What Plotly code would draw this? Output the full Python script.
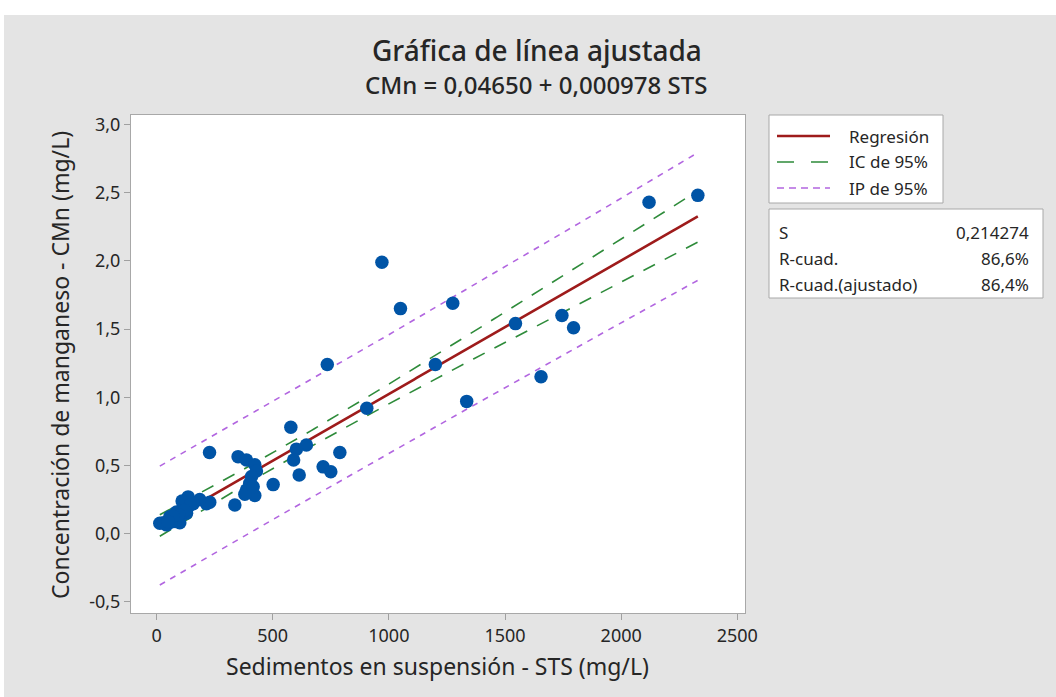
import numpy as np
import plotly.graph_objects as go

# ---- data ----
sts = [2330, 2120, 970, 1050, 1275, 1545, 1745, 1795, 1655, 1200, 735, 1335, 905,
       578, 645, 602, 590, 789, 717, 750, 614, 502, 337, 228,
       351, 387, 423, 430, 409, 401, 387, 423, 380, 416,
       229, 215, 186, 158, 136, 115, 129, 100, 86, 71, 57, 43, 14, 100, 80, 30,
       60, 110, 145, 120, 95, 70, 50]
cmn = [2.48, 2.43, 1.99, 1.65, 1.69, 1.54, 1.60, 1.51, 1.15, 1.24, 1.24, 0.97, 0.92,
       0.78, 0.65, 0.62, 0.54, 0.595, 0.49, 0.455, 0.43, 0.36, 0.21, 0.595,
       0.565, 0.54, 0.505, 0.46, 0.42, 0.37, 0.32, 0.28, 0.29, 0.345,
       0.23, 0.22, 0.25, 0.22, 0.27, 0.20, 0.15, 0.125, 0.16, 0.10, 0.125, 0.065, 0.077, 0.08, 0.09, 0.08,
       0.085, 0.24, 0.21, 0.17, 0.14, 0.13, 0.09]

b0, b1 = 0.04650, 0.000978
s_val = 0.214274
t_crit = 2.0

x_ticks = [0, 500, 1000, 1500, 2000, 2500]
x_ticktext = ["0", "500", "1000", "1500", "2000", "2500"]
y_ticks = [-0.5, 0.0, 0.5, 1.0, 1.5, 2.0, 2.5, 3.0]
y_ticktext = ["-0,5", "0,0", "0,5", "1,0", "1,5", "2,0", "2,5", "3,0"]

legend_labels = ["Regresión", "IC de 95%", "IP de 95%"]
stats_labels = ["S", "R-cuad.", "R-cuad.(ajustado)"]
stats_values = ["0,214274", "86,6%", "86,4%"]

# ---- derived fit lines ----
xa = np.array(sts, dtype=float)
n = len(xa)
xbar = xa.mean()
sxx = ((xa - xbar) ** 2).sum()
xg = np.linspace(xa.min(), xa.max(), 200)
yhat = b0 + b1 * xg
se_m = s_val * np.sqrt(1 / n + (xg - xbar) ** 2 / sxx)
se_p = s_val * np.sqrt(1 + 1 / n + (xg - xbar) ** 2 / sxx)

RED = "#9e1b1b"
GREEN = "#2e8b3a"
PURPLE = "#b266e0"
BLUE = "#0054a6"
FONT = "Noto Sans"
TXT = "#262626"

fig = go.Figure()
fig.add_trace(go.Scatter(x=xg, y=yhat + t_crit * se_p, mode="lines",
                         line=dict(color=PURPLE, width=1.6, dash="6px,6px"), showlegend=False))
fig.add_trace(go.Scatter(x=xg, y=yhat - t_crit * se_p, mode="lines",
                         line=dict(color=PURPLE, width=1.6, dash="6px,6px"), showlegend=False))
fig.add_trace(go.Scatter(x=xg, y=yhat + t_crit * se_m, mode="lines",
                         line=dict(color=GREEN, width=1.6, dash="13px,11px"), showlegend=False))
fig.add_trace(go.Scatter(x=xg, y=yhat - t_crit * se_m, mode="lines",
                         line=dict(color=GREEN, width=1.6, dash="13px,11px"), showlegend=False))
fig.add_trace(go.Scatter(x=xg, y=yhat, mode="lines",
                         line=dict(color=RED, width=2.6), showlegend=False))
fig.add_trace(go.Scatter(x=sts, y=cmn, mode="markers",
                         marker=dict(color=BLUE, size=13.5, line=dict(width=0)), showlegend=False))

W, H = 1056, 697
L, R, T, B = 131, 311, 115, 84
PW, PH = W - L - R, H - T - B


def px(xp):
    return (xp - L) / PW


def py(yp):
    return 1 - (yp - T) / PH


shapes = [
    # white strips at top / left of the page
    dict(type="rect", xref="paper", yref="paper", x0=px(-5), x1=px(W + 5), y0=py(15), y1=py(-5),
         fillcolor="white", line=dict(width=0), layer="below"),
    dict(type="rect", xref="paper", yref="paper", x0=px(-5), x1=px(4), y0=py(H + 5), y1=py(15),
         fillcolor="white", line=dict(width=0), layer="below"),
    # legend box
    dict(type="rect", xref="paper", yref="paper", x0=px(769), x1=px(943), y0=py(203), y1=py(115),
         fillcolor="white", line=dict(color="#a8a8a8", width=1)),
    # stats box
    dict(type="rect", xref="paper", yref="paper", x0=px(769), x1=px(1043), y0=py(298), y1=py(209),
         fillcolor="white", line=dict(color="#a8a8a8", width=1)),
]
legend_styles = [dict(color=RED, width=2.6), dict(color=GREEN, width=1.6, dash="17px,17px"),
                 dict(color=PURPLE, width=1.6, dash="7px,5px")]
legend_rows = [136, 162, 188]
for lab, st, ry in zip(legend_labels, legend_styles, legend_rows):
    shapes.append(dict(type="line", xref="paper", yref="paper", x0=px(777), x1=px(830),
                       y0=py(ry), y1=py(ry), line=st))

annotations = [
    dict(text="Gráfica de línea ajustada", x=px(537), y=py(50), xref="paper", yref="paper",
         showarrow=False, font=dict(family=FONT, size=28, color=TXT, weight=500),
         xanchor="center", yanchor="middle"),
    dict(text="CMn = 0,04650 + 0,000978 STS", x=px(536), y=py(85), xref="paper", yref="paper",
         showarrow=False, font=dict(family=FONT, size=24, color=TXT, weight=500),
         xanchor="center", yanchor="middle"),
    dict(text="Concentración de manganeso - CMn (mg/L)", x=px(60), y=py(365), xref="paper", yref="paper",
         showarrow=False, textangle=-90, font=dict(family=FONT, size=23, color=TXT),
         xanchor="center", yanchor="middle"),
    dict(text="Sedimentos en suspensión - STS (mg/L)", x=px(437), y=py(666), xref="paper", yref="paper",
         showarrow=False, font=dict(family=FONT, size=23, color=TXT), xanchor="center", yanchor="middle"),
]
for lab, ry in zip(legend_labels, legend_rows):
    annotations.append(dict(text=lab, x=px(847), y=py(ry), xref="paper", yref="paper", showarrow=False,
                            font=dict(family=FONT, size=17, color=TXT), xanchor="left", yanchor="middle"))
for lab, val, ry in zip(stats_labels, stats_values, [232, 258, 284]):
    annotations.append(dict(text=lab, x=px(777), y=py(ry), xref="paper", yref="paper", showarrow=False,
                            font=dict(family=FONT, size=17, color=TXT), xanchor="left", yanchor="middle"))
    annotations.append(dict(text=val, x=px(1031), y=py(ry), xref="paper", yref="paper", showarrow=False,
                            font=dict(family=FONT, size=17, color=TXT), xanchor="right", yanchor="middle"))

axis_common = dict(showgrid=False, zeroline=False, showline=True, mirror=True, linecolor="#a8a8a8",
                   linewidth=1, ticks="outside", ticklen=6, tickcolor="#a0a0a0",
                   tickfont=dict(family=FONT, size=18, color=TXT))
fig.update_layout(
    width=W, height=H,
    margin=dict(l=L, r=R, t=T, b=B),
    paper_bgcolor="#e4e4e4", plot_bgcolor="white",
    showlegend=False,
    xaxis=dict(range=[-110, 2533], tickvals=x_ticks, ticktext=x_ticktext, **axis_common),
    yaxis=dict(range=[-0.581, 3.069], tickvals=y_ticks, ticktext=y_ticktext, **axis_common),
    shapes=shapes, annotations=annotations,
)
fig.write_html("out.html", config={"displayModeBar": False},
               post_script="document.body.style.margin='0';")
